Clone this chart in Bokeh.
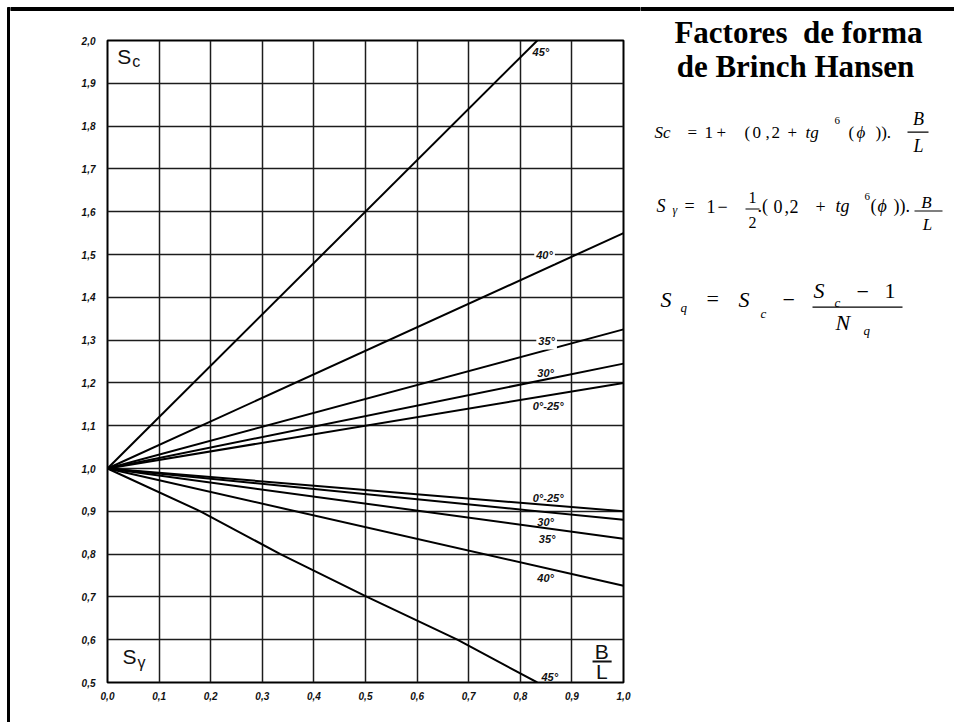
from bokeh.plotting import figure
from bokeh.layouts import column, row
from bokeh.models import (ColumnDataSource, FixedTicker, CustomJSTickFormatter, Range1d)
from bokeh.core.properties import value
from bokeh.embed import file_html
from bokeh.resources import INLINE

# Axis ticks (B/L and shape factor)
x_ticks = [0.0, 0.1, 0.2, 0.3, 0.4, 0.5, 0.6, 0.7, 0.8, 0.9, 1.0]
y_ticks = [0.5, 0.6, 0.7, 0.8, 0.9, 1.0, 1.1, 1.2, 1.3, 1.4, 1.5,
           1.6, 1.7, 1.8, 1.9, 2.0]

# Friction angle groups
angles = ["0°-25°", "30°", "35°", "40°", "45°"]

# Sc curves: B/L against Sc
sc_bl = [[0.0, 1.0], [0.0, 1.0], [0.0, 1.0], [0.0, 1.0], [0.0, 0.833]]
sc_val = [[1.0, 1.20], [1.0, 1.245], [1.0, 1.325], [1.0, 1.55], [1.0, 2.0]]

# S-gamma curves: B/L against S-gamma
sg_bl = [[0.0, 1.0], [0.0, 1.0], [0.0, 1.0], [0.0, 1.0],
         [0.0, 0.18, 0.335, 0.503, 0.678, 0.833]]
sg_val = [[1.0, 0.90], [1.0, 0.88], [1.0, 0.836], [1.0, 0.726],
          [1.0, 0.9, 0.8, 0.7, 0.6, 0.5]]

# Where each curve's angle is written
sc_lab_x = [0.854, 0.849, 0.851, 0.847, 0.840]
sc_lab_y = [1.145, 1.224, 1.297, 1.498, 1.973]
sg_lab_x = [0.854, 0.849, 0.852, 0.849, 0.857]
sg_lab_y = [0.930, 0.876, 0.836, 0.745, 0.514]
# angle labels that sit on a grid line get a white backing
on_grid = [False, False, True, True, False, False, False, False, False, False]

W, H = 954, 722
TOP = 20           # height of the strip above the chart
SIDE = 10          # width of the strip carrying the left rule
CHART_W = 630
PANEL_X = SIDE + CHART_W   # left edge of the text panel
MID = 0.35         # text middle above the baseline, in em
PX_PER_UNIT = 428  # chart pixels per unit of shape factor


def blank(width, height, xr, yr):
    f = figure(width=width, height=height, x_range=xr, y_range=yr,
               x_axis_type=None, y_axis_type=None,
               output_backend="svg", toolbar_location=None, min_border=0,
               frame_align=False)
    f.title = None
    f.grid.visible = False
    f.outline_line_color = None
    f.background_fill_color = "white"
    f.border_fill_color = "white"
    return f


# Page frame: left rule and the top rule above the chart
left_strip = blank(SIDE, H, Range1d(0, SIDE), Range1d(H, 0))
left_strip.quad(left=[7], right=[10], top=[7], bottom=[H], color="black")
top_strip = blank(CHART_W, TOP, Range1d(SIDE, PANEL_X), Range1d(TOP, 0))
top_strip.quad(left=[SIDE], right=[PANEL_X], top=[7], bottom=[10], color="black")

# Chart
p = figure(width=CHART_W, height=H - TOP, x_range=(0.0, 1.0), y_range=(0.5, 2.0),
           output_backend="svg", toolbar_location=None, frame_align=False,
           min_border_left=97, min_border_right=17,
           min_border_top=40 - TOP, min_border_bottom=40)
p.background_fill_color = "white"
p.border_fill_color = "white"
p.outline_line_color = "black"
p.outline_line_width = 2

fmt = CustomJSTickFormatter(code="return tick.toFixed(1).replace('.', ',');")
for ax, ticks, standoff in ((p.xaxis[0], x_ticks, 9), (p.yaxis[0], y_ticks, 12)):
    ax.ticker = FixedTicker(ticks=ticks)
    ax.formatter = fmt
    ax.axis_line_color = None
    ax.major_tick_line_color = None
    ax.minor_tick_line_color = None
    ax.major_tick_out = 0
    ax.major_tick_in = 0
    ax.major_label_standoff = standoff
    ax.major_label_text_font = "Liberation Sans"
    ax.major_label_text_font_style = "bold italic"
    ax.major_label_text_font_size = "10px"
    ax.major_label_text_color = "#111111"

for g in (p.xgrid[0], p.ygrid[0]):
    g.grid_line_color = "#1c1c1c"
    g.grid_line_width = 1.5

sc_src = ColumnDataSource(dict(xs=sc_bl, ys=sc_val, angle=angles))
sg_src = ColumnDataSource(dict(xs=sg_bl, ys=sg_val, angle=angles))
p.multi_line("xs", "ys", source=sc_src, line_color="black", line_width=2)
p.multi_line("xs", "ys", source=sg_src, line_color="black", line_width=2)

lab_x = sc_lab_x + sg_lab_x
lab_y = sc_lab_y + sg_lab_y
lab_t = angles + angles
for backed in (True, False):
    idx = [i for i, b in enumerate(on_grid) if b == backed]
    src = ColumnDataSource(dict(x=[lab_x[i] for i in idx], y=[lab_y[i] for i in idx],
                                text=[lab_t[i] for i in idx]))
    kw = dict(background_fill_color="white", padding=2) if backed else {}
    p.text("x", "y", text="text", source=src,
           text_font=value("Liberation Sans"), text_font_style="bold italic",
           text_font_size="11px", text_align="center", text_baseline="middle",
           text_color="#111111", **kw)


def corner(txt, x, y_base, size, align="left"):
    p.text(x=[x], y=[y_base + MID * size / PX_PER_UNIT], text=[txt],
           text_font=value("Liberation Sans"), text_font_size=f"{size}px",
           text_align=align, text_baseline="middle", text_color="#111111")


corner("S", 0.019, 1.946, 21)
corner("c", 0.048, 1.937, 16)
corner("S", 0.029, 0.544, 21)
corner("γ", 0.058, 0.533, 16)
corner("B", 0.958, 0.556, 21, "center")
corner("L", 0.958, 0.509, 21, "center")
p.segment(x0=[0.940], y0=[0.549], x1=[0.977], y1=[0.549],
          line_color="#111111", line_width=2)

# Text panel: data coordinates equal page pixels
t = blank(W - PANEL_X, H, Range1d(PANEL_X, W), Range1d(H, 0))
t.quad(left=[PANEL_X], right=[W], top=[7], bottom=[10], color="black")


def put(txt, x, base, size, style="normal", align="left", font="Liberation Serif"):
    t.text(x=[x], y=[base - MID * size], text=[txt], text_font=value(font),
           text_font_size=f"{size}px", text_font_style=style, text_align=align,
           text_baseline="middle", text_color="black")


def bar(x0, x1, y, w=1.2):
    t.segment(x0=[x0], y0=[y], x1=[x1], y1=[y], line_color="black", line_width=w)


put("Factores\u00a0 de forma", 798, 43, 31, "bold", "center")
put("de Brinch Hansen", 795, 77, 31, "bold", "center")

# Sc = 1 + (0,2 + tg^6(phi)) . B/L
b1 = 137.5
for txt, x, st in [("Sc", 654, "italic"), ("=", 687, "normal"), ("1", 704, "normal"),
                   ("+", 716, "normal"), ("(", 744, "normal"), ("0", 752, "normal"),
                   (",", 765, "normal"), ("2", 771, "normal"), ("+", 787, "normal"),
                   ("tg", 805, "italic"), ("(", 848, "normal"), ("ϕ", 856, "italic"),
                   (")).", 875, "normal")]:
    put(txt, x, b1, 17, st)
put("6", 834, 124, 11)
put("B", 918, 125, 18, "italic", "center")
bar(907, 928, 131.7)
put("L", 918, 151.5, 18, "italic", "center")

# S_gamma = 1 - 1/2 . (0,2 + tg^6(phi)) . B/L
b2 = 212
for txt, x, st in [("S", 656, "italic"), ("=", 684, "normal"), ("1", 706, "normal"),
                   ("−", 717, "normal"), (".(", 757, "normal"), ("0", 773, "normal"),
                   (",", 784, "normal"), ("2", 789, "normal"), ("+", 815, "normal"),
                   ("tg", 835, "italic"), ("(", 870, "normal"), ("ϕ", 877, "italic"),
                   (")).", 893, "normal")]:
    put(txt, x, b2, 18, st)
put("γ", 672, 214, 12, "italic")
put("1", 752, 203, 16, "normal", "center")
bar(745, 759, 208.5)
put("2", 752, 228, 16, "normal", "center")
put("6", 864, 200, 11)
put("B", 926, 208, 17, "italic", "center")
bar(914, 942, 210.5)
put("L", 927, 230, 17, "italic", "center")

# S_q = S_c - (S_c - 1) / N_q
put("S", 660, 307, 22, "italic")
put("q", 680, 312, 13, "italic")
put("=", 706, 306, 22)
put("S", 738, 307, 22, "italic")
put("c", 760, 318, 13, "italic")
put("−", 782, 307.5, 22)
put("S", 813, 298, 22, "italic")
put("c", 834, 307, 13, "italic")
put("−", 856, 299.5, 22)
put("1", 884, 298, 22)
bar(812, 902, 306.7)
put("N", 835, 330, 22, "italic")
put("q", 863, 335, 13, "italic")

page = row(left_strip, column(top_strip, p, spacing=0), t, spacing=0)
open("out.html", "w").write(file_html(page, INLINE))
